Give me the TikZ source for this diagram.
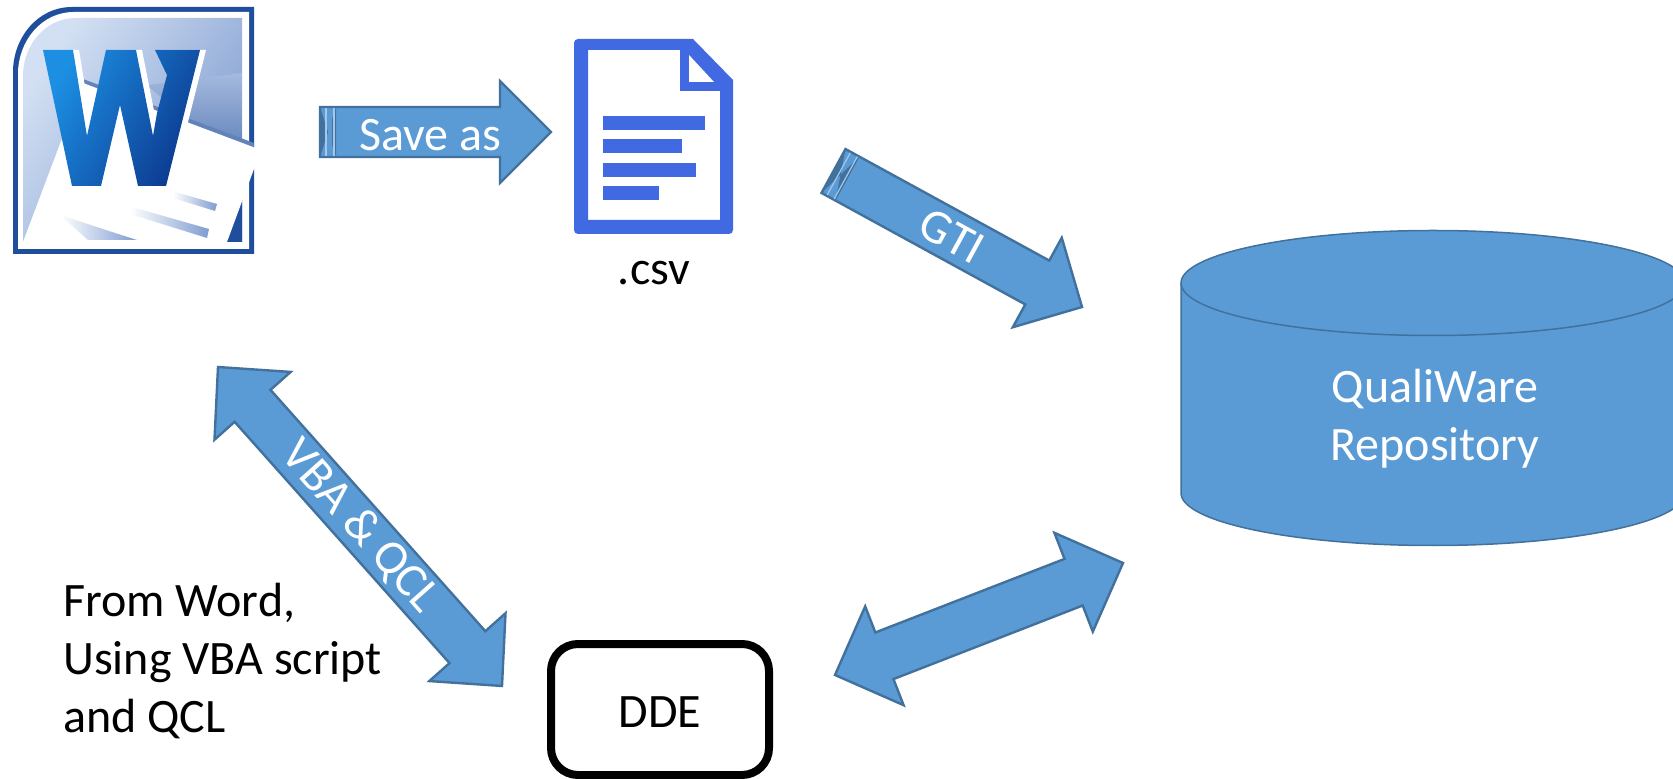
\documentclass[tikz,border=0pt]{standalone}
\usepackage{fontspec}
\setmainfont{Carlito}
\usetikzlibrary{calc, positioning}
\definecolor{arrowfill}{HTML}{5B9BD5}
\definecolor{arrowline}{HTML}{41719C}
\definecolor{fileblue}{HTML}{4169E1}
\definecolor{wordrim}{HTML}{1F4E9C}
\definecolor{wordlight}{HTML}{D3E0F3}
\definecolor{wordmid}{HTML}{7F9CD0}
\definecolor{wordbright}{HTML}{1C8FE3}
\definecolor{worddark}{HTML}{0C3A90}
\tikzset{
    slidetext/.style={
           font=\fontsize{24}{28.8}\selectfont,
           inner sep=0pt,
           },
    arrowlabel/.style={
           slidetext,
           text=white,
           sloped,
           },
    blockarrow/.style args={#1/#2/#3}{
           draw=arrowline, fill=arrowfill, line width=1.2pt,
           to path={
             ($(\tikztostart)!#1!90:(\tikztotarget)$) --
             ($(\tikztotarget)!#3!(\tikztostart)!#1!-90:(\tikztostart)$) --
             ($(\tikztotarget)!#3!(\tikztostart)!#2!-90:(\tikztostart)$) --
             (\tikztotarget) --
             ($(\tikztotarget)!#3!(\tikztostart)!#2!90:(\tikztostart)$) --
             ($(\tikztotarget)!#3!(\tikztostart)!#1!90:(\tikztostart)$) --
             ($(\tikztostart)!#1!-90:(\tikztotarget)$) -- cycle
           },
           },
    doublearrow/.style args={#1/#2/#3}{
           draw=arrowline, fill=arrowfill, line width=1.2pt,
           to path={
             (\tikztostart) --
             ($(\tikztostart)!#3!(\tikztotarget)!#2!90:(\tikztotarget)$) --
             ($(\tikztostart)!#3!(\tikztotarget)!#1!90:(\tikztotarget)$) --
             ($(\tikztotarget)!#3!(\tikztostart)!#1!-90:(\tikztostart)$) --
             ($(\tikztotarget)!#3!(\tikztostart)!#2!-90:(\tikztostart)$) --
             (\tikztotarget) --
             ($(\tikztotarget)!#3!(\tikztostart)!#2!90:(\tikztostart)$) --
             ($(\tikztotarget)!#3!(\tikztostart)!#1!90:(\tikztostart)$) --
             ($(\tikztostart)!#3!(\tikztotarget)!#1!-90:(\tikztotarget)$) --
             ($(\tikztostart)!#3!(\tikztotarget)!#2!-90:(\tikztotarget)$) -- cycle
           },
           },
    tailband/.style={
           draw=none, fill=arrowline,
           to path={
             ($(\tikztostart)!#1!90:(\tikztotarget)$) --
             ($(\tikztostart)!8pt!(\tikztotarget)!#1!-90:(\tikztotarget)$) --
             ($(\tikztostart)!8pt!(\tikztotarget)!#1!90:(\tikztotarget)$) --
             ($(\tikztostart)!#1!-90:(\tikztotarget)$) -- cycle
           },
           },
    tailstripe/.style args={#1/#2}{
           draw=arrowfill!55!white, line width=0.6pt,
           to path={
             ($(\tikztostart)!#1!(\tikztotarget)!#2!-90:(\tikztotarget)$) --
             ($(\tikztostart)!#1!(\tikztotarget)!#2!90:(\tikztotarget)$)
           },
           },
    module/.style={
           rectangle,
           rounded corners=13.5pt,
           draw=black, line width=4pt,
           minimum width=109pt,
           minimum height=65.5pt,
           slidetext,
           text height=17.5pt,
           text depth=0pt,
           },
}

\begin{document}
\begin{tikzpicture}[x=0.5pt, y=-0.5pt]

 \useasboundingbox (0,0) rectangle (1673,779);
 \fill[white] (0,0) rectangle (1673,779);

 \fill[wordrim] (13,254) -- (13,72) to[out=90, in=180] (72,7) -- (254,7) -- (254,254) -- cycle;
 \fill[white] (18,249) -- (18,74) to[out=90, in=180] (74,12) -- (249,12) -- (249,249) -- cycle;
 \shade[left color=wordlight, right color=wordmid, shading angle=55]
   (23,242) -- (23,76) to[out=90, in=180] (76,18) -- (242,18) -- (242,242) -- cycle;
 \shade[top color=wordmid!70!white, bottom color=wordrim!70!white]
   (147,85) -- (242,73) -- (242,150) -- (185,118) -- cycle;
 \fill[wordrim] (226,242) -- (242,242) -- (242,170) -- cycle;
 \fill[wordrim!70!white] (83,79) -- (254,143) -- (254,152) -- (83,88) -- cycle;
 \fill[white] (83,83) -- (261,150) -- (227,242) -- (23,242) -- cycle;

 \shade[left color=white, right color=wordmid] (175,192) -- (217,204) -- (215,211) -- (173,198) -- cycle;
 \shade[left color=white, right color=wordmid] (132,207) -- (209,229) -- (207,238) -- (130,214) -- cycle;
 \shade[left color=white, right color=wordmid] (60,215) -- (112,232) -- (137,240) -- (88,240) -- cycle;

 \fill[white] (49,50) -- (79,50) -- (93,136) -- (112,50) -- (142,50) -- (159,136)
   -- (163,113) -- (173,75) -- (161,50) -- (206,50) -- (172,186) -- (78,186) -- cycle;
 \shade[left color=wordbright, right color=worddark, shading angle=60]
   (43,50) -- (73,50) -- (87,136) -- (106,50) -- (136,50) -- (153,136)
   -- (157,113) -- (167,75) -- (155,50) -- (200,50) -- (166,186) -- (138,186)
   -- (120,105) -- (101,186) -- (72,186) -- cycle;

 \fill[fileblue, even odd rule]
   (693,39) -- (733,80) [rounded corners=2pt] -- (733,234) -- (574,234) -- (574,39) [sharp corners] -- cycle
   (588,50) -- (680,50) -- (680,91) -- (720,91) -- (720,220) -- (588,220) -- cycle;
 \fill[white] (689,55) -- (689,82) -- (714,82) -- cycle;
 \foreach \lineend/\linetop in {705/116, 682/139, 696/163, 659/186}
 {
  \fill[fileblue] (603,\linetop) rectangle (\lineend,\linetop+14);
 }

 \node[slidetext, anchor=base] (CSV_LABEL) at (654,285)
 {%
  .csv
 };

 \coordinate (SAVE_TAIL) at (320,132);
 \coordinate (SAVE_TIP) at (551,132);
 \coordinate (GTI_TAIL) at (833.5,171);
 \coordinate (GTI_TIP) at (1082,307);
 \coordinate (VBA_START) at (218,367);
 \coordinate (VBA_END) at (502,686);
 \coordinate (DDE_START) at (835,675);
 \coordinate (DDE_END) at (1123,563);

 \draw[blockarrow=12.5pt/25.5pt/25.5pt] (SAVE_TAIL) to (SAVE_TIP);
 \draw[blockarrow=12.5pt/25.5pt/25.5pt] (GTI_TAIL) to (GTI_TIP);
 \draw[doublearrow=12pt/25.5pt/26pt] (VBA_START) to (VBA_END);
 \draw[doublearrow=12.5pt/26.5pt/26.5pt] (DDE_START) to (DDE_END);

 \path[tailband=12.5pt] (SAVE_TAIL) to (SAVE_TIP);
 \path[tailband=12.5pt] (GTI_TAIL) to (GTI_TIP);
 \foreach \stripeat in {3pt, 7pt}
 {
  \draw[tailstripe=\stripeat/12pt] (SAVE_TAIL) to (SAVE_TIP);
  \draw[tailstripe=\stripeat/12pt] (GTI_TAIL) to (GTI_TIP);
 }
 \draw[tailstripe=5pt/11pt, draw=arrowfill, line width=2pt] (SAVE_TAIL) to (SAVE_TIP);

 \path (SAVE_TAIL) -- node[arrowlabel, pos=0.478, yshift=-1.5pt] (SAVE_LABEL)
 {%
  Save as
 } (SAVE_TIP);

 \path (GTI_TAIL) -- node[arrowlabel, pos=0.477] (GTI_LABEL)
 {%
  GTI
 } (GTI_TIP);

 \path (VBA_START) -- node[arrowlabel, pos=0.5] (VBA_LABEL)
 {%
  VBA \& QCL
 } (VBA_END);

 \draw[draw=arrowline, line width=0.75pt, fill=arrowfill]
   (1181,283) -- (1181,493) arc[start angle=180, end angle=360, x radius=126pt, y radius=26.25pt]
   -- (1685,283) arc[start angle=0, end angle=180, x radius=126pt, y radius=26.25pt] -- cycle;
 \draw[draw=arrowline, line width=0.75pt]
   (1181,283) arc[start angle=180, end angle=360, x radius=126pt, y radius=26.25pt];

 \node[slidetext,
  text=white,
  align=center] (REPO_LABEL) at (1435,419)
 {%
  QualiWare\\Repository
 };

 \node[module] (DDE) at (660,709.5)
 {%
  DDE
 };

 \node[slidetext,
  align=left,
  anchor=west] (NOTE) at (63,661)
 {%
  From Word,\\Using VBA script\\and QCL
 };

\end{tikzpicture}
\end{document}
